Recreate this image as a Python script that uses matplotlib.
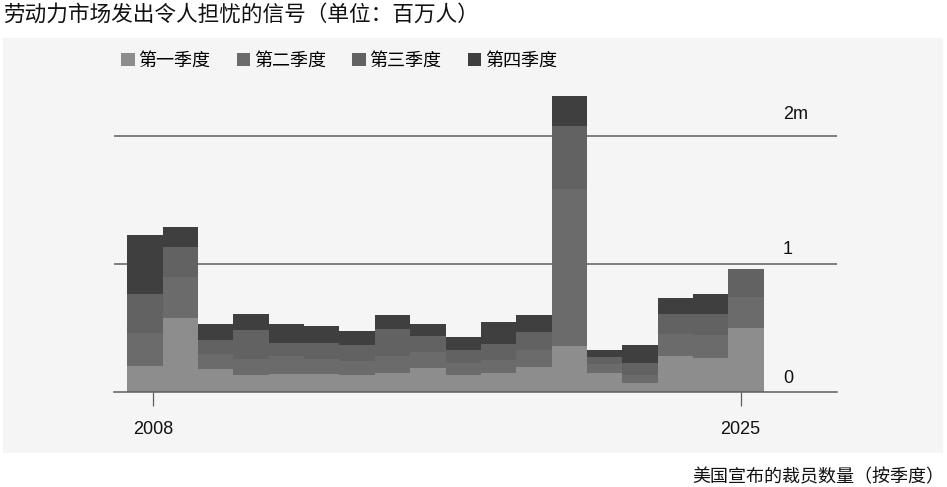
# -*- coding: utf-8 -*-
"""
Quarterly layoff announcements in the US, stacked by quarter (millions).
"""

#--------------------#
# LIBRARIES IMPORTED #
#--------------------#

import numpy as np
import matplotlib.pyplot as plt
from matplotlib.patches import Patch, Rectangle
from matplotlib.transforms import blended_transform_factory

#------#
# DATA #
#------#

years = list(range(2008, 2026))

# Layoffs announced per quarter, millions
q1 = [0.204, 0.581, 0.183, 0.132, 0.142, 0.142, 0.132, 0.150, 0.190,
      0.137, 0.147, 0.199, 0.361, 0.152, 0.072, 0.284, 0.271, 0.504]
q2 = [0.261, 0.315, 0.114, 0.124, 0.142, 0.118, 0.111, 0.134, 0.125,
      0.093, 0.103, 0.134, 1.225, 0.065, 0.065, 0.173, 0.173, 0.237]
q3 = [0.299, 0.241, 0.111, 0.232, 0.098, 0.122, 0.124, 0.209, 0.125,
      0.103, 0.124, 0.137, 0.494, 0.062, 0.088, 0.155, 0.168, 0.217]
q4 = [0.465, 0.155, 0.124, 0.124, 0.150, 0.134, 0.114, 0.112, 0.092,
      0.098, 0.173, 0.135, 0.232, 0.054, 0.147, 0.124, 0.155, 0.000]

quarters = ['第一季度', '第二季度', '第三季度', '第四季度']
ytick_vals = [0, 1, 2]
ytick_labels = ['0', '1', '2m']
xtick_labels = ['2008', '2025']

title = '劳动力市场发出令人担忧的信号（单位：百万人）'
source = '美国宣布的裁员数量（按季度）'

#------#
# PLOT #
#------#

if __name__ == "__main__":

    W, H = 947, 487
    fig = plt.figure(figsize=(W / 100, H / 100), dpi=100)
    fig.patch.set_facecolor('white')

    cjk = ['Noto Sans CJK SC', 'DejaVu Sans']
    num = ['Liberation Sans', 'DejaVu Sans']

    colors = ['#8d8d8d', '#6b6b6b', '#626262', '#3f3f3f']
    grid_col = '#5e5e5e'

    # light grey panel behind chart
    panel = Rectangle((3 / W, 1 - 453 / H), 940 / W, 415 / H,
                      transform=fig.transFigure, facecolor='#f5f5f5',
                      edgecolor='none', zorder=-10)
    fig.add_artist(panel)

    ax = fig.add_axes([114.3 / W, 1 - 392.3 / H, 722.4 / W, 307.7 / H])
    ax.set_facecolor('none')
    ax.set_zorder(1)

    x = np.array(years)
    data = np.array([q1, q2, q3, q4])
    bottom = np.zeros(len(years))
    for k in range(4):
        ax.bar(x, data[k], width=1.0, bottom=bottom, color=colors[k],
               linewidth=0, zorder=3)
        bottom += data[k]

    # axis limits
    ax.set_xlim(years[0] - 0.868, years[0] + 19.56)
    ax.set_ylim(0, 2.4)

    # horizontal rules and right-hand labels
    for v in ytick_vals[1:]:
        ax.axhline(v, color=grid_col, linewidth=1.1, zorder=1)
    trans = blended_transform_factory(ax.transAxes, ax.transData)
    lift = [6.7, 7.6, 12.0]
    for v, lab, dy in zip(ytick_vals, ytick_labels, lift):
        ax.annotate(lab, xy=(0.9257, v), xycoords=trans,
                    xytext=(0, dy), textcoords='offset points',
                    ha='left', va='baseline', fontsize=13,
                    family=num, color='#111111')

    # spines
    for s in ['top', 'right', 'left']:
        ax.spines[s].set_visible(False)
    ax.spines['bottom'].set_color(grid_col)
    ax.spines['bottom'].set_linewidth(1.1)
    ax.spines['bottom'].set_zorder(4)

    ax.set_yticks([])
    ax.set_xticks([years[0] + 0.235, years[-1] - 0.16])
    ax.set_xticklabels(xtick_labels, fontsize=13, family=num, color='#111111')
    ax.tick_params(axis='x', direction='out', length=10, width=0.9,
                   color=grid_col, pad=11)

    # legend across the top
    handles = [Patch(facecolor=c, edgecolor='none') for c in colors]
    fig.legend(handles, quarters, loc='upper left',
               bbox_to_anchor=(121 / W, 1 - 52 / H), ncol=4, frameon=False,
               prop={'family': cjk, 'size': 13, 'weight': 'medium'},
               handlelength=0.76, handleheight=0.76, handletextpad=0.2,
               columnspacing=1.45, borderaxespad=0, borderpad=0)

    # title and source line
    fig.text(3 / W, 1 - 15 / H, title, ha='left', va='center',
             fontsize=15.6, family=cjk, weight='medium', color='#111111')
    fig.text(944 / W, 1 - 477 / H, source, ha='right', va='center',
             fontsize=13, family=cjk, color='#111111')

    fig.savefig('out.png', dpi=100)
